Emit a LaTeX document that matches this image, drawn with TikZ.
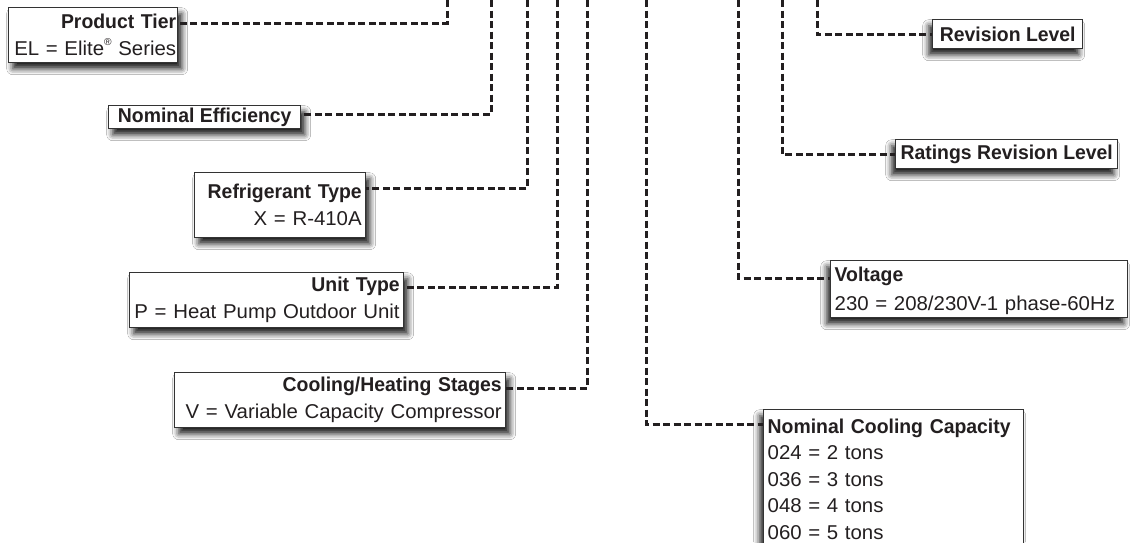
\documentclass[tikz,border=0pt]{standalone}
\usepackage{fontspec}
\setmainfont{Liberation Sans}[FakeStretch=1.02, BoldFeatures={FakeStretch=0.97}]
\usetikzlibrary{shadows.blur}
\definecolor{ink}{HTML}{231F20}
\definecolor{rim}{HTML}{333333}
\newcommand{\regmark}{\raisebox{0.5em}{\fontsize{10}{10}\selectfont ®}}

\begin{document}
\begin{tikzpicture}[x=1pt, y=-1pt,
  font=\fontsize{20}{27}\selectfont,
  key/.style={draw=rim, line width=1.4pt, fill=white, anchor=north west,
              inner xsep=4pt, inner ysep=2pt, text=ink},
  keyl/.style={key, align=right, blur shadow={shadow xshift=4pt, shadow yshift=-6pt,
               shadow blur radius=6pt, shadow opacity=90}},
  keyr/.style={key, align=left, blur shadow={shadow xshift=-4pt, shadow yshift=-6pt,
               shadow blur radius=6pt, shadow opacity=90}},
  lead/.style={draw=ink, line width=3pt, dash pattern=on 7pt off 3.5pt},
]
\clip (0,0) rectangle (1130,542);
\fill[white] (0,0) rectangle (1130,542);

% free ends of the leads at the top edge
\coordinate (tTier) at (447,0);
\coordinate (tEff)  at (491,0);
\coordinate (tRefr) at (527,0);
\coordinate (tUnit) at (557,0);
\coordinate (tCool) at (587,0);
\coordinate (tCap)  at (646,0);
\coordinate (tVolt) at (738,0);
\coordinate (tRat)  at (782,0);
\coordinate (tRev)  at (817,0);

% left keys
\node[keyl, text width=166pt, inner xsep=1.5pt, minimum height=55pt] (tier) at (8,7)
      {\textbf{Product Tier}\\\mbox{EL = Elite\regmark{} Series}};
\node[keyl, minimum width=192pt, minimum height=23pt] (eff) at (108,105)
      {\textbf{Nominal Efficiency}};
\node[keyl, text width=163pt, minimum height=65pt] (refr) at (194,172)
      {\textbf{Refrigerant Type}\\X = R-410A};
\node[keyl, text width=266pt, minimum height=55pt] (unit) at (129,272)
      {\textbf{Unit Type}\\P = Heat Pump Outdoor Unit};
\node[keyl, text width=323pt, minimum height=55pt] (cool) at (174,372)
      {\textbf{Cooling/Heating Stages}\\V = Variable Capacity Compressor};

% right keys
\node[keyr, minimum width=150pt, minimum height=29pt] (rev) at (932,19)
      {\textbf{Revision Level}};
\node[keyr, minimum width=222pt, minimum height=29pt] (rat) at (895,139)
      {\textbf{Ratings Revision Level}};
\node[keyr, text width=289pt, minimum height=57pt, font=\fontsize{20}{29}\selectfont] (volt) at (830,260)
      {\rule{0pt}{18pt}\textbf{Voltage}\\230 = 208/230V-1 phase-60Hz};
\node[keyr, text width=252pt, inner ysep=9pt, font=\fontsize{20}{26.5}\selectfont] (cap) at (763,409)
      {\textbf{Nominal Cooling Capacity}\\024 = 2 tons\\036 = 3 tons\\048 = 4 tons\\060 = 5 tons};

% leads
\draw[lead] (tTier) |- ([yshift=-16pt]tier.north east);
\draw[lead] (tEff)  |- ([yshift=-9pt]eff.north east);
\draw[lead] (tRefr) |- ([yshift=-16pt]refr.north east);
\draw[lead] (tUnit) |- ([yshift=-15pt]unit.north east);
\draw[lead] (tCool) |- ([yshift=-16pt]cool.north east);
\draw[lead] (tCap)  |- ([yshift=-15pt]cap.north west);
\draw[lead] (tVolt) |- ([yshift=-18pt]volt.north west);
\draw[lead] (tRat)  |- (rat.west);
\draw[lead] (tRev)  |- (rev.west);
\end{tikzpicture}
\end{document}
